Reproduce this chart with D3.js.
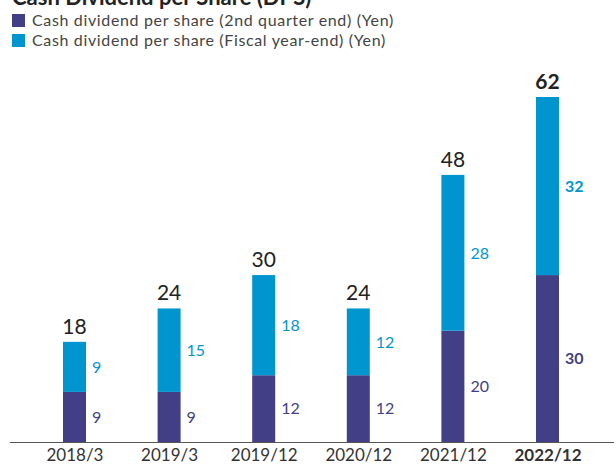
<!DOCTYPE html>
<html>
<head>
<meta charset="utf-8">
<script src="https://d3js.org/d3.v7.min.js"></script>
<style>
  body { margin: 0; background: #fff; }
  svg { display: block; font-family: Lato, "Open Sans", sans-serif; }
</style>
</head>
<body>
<script>
// chart values
var periods = ["2018/3", "2019/3", "2019/12", "2020/12", "2021/12", "2022/12"];
var secondQuarter = [9, 9, 12, 12, 20, 30];
var fiscalYearEnd = [9, 15, 18, 12, 28, 32];
var totals = [18, 24, 30, 24, 48, 62];
var legendLabels = ["Cash dividend per share (2nd quarter end) (Yen)",
                    "Cash dividend per share (Fiscal year-end) (Yen)"];

var width = 614, height = 465;
var purple = "#423f87", blue = "#0095cf";
var barW = 23;

var svg = d3.select("body").append("svg")
  .attr("width", width).attr("height", height);

// title, mostly clipped off the top as in the original
svg.append("text")
  .attr("x", 12).attr("y", 5)
  .style("font-size", "22px").style("font-weight", "bold").style("fill", "#222")
  .text("Cash Dividend per Share (DPS)");

// legend
[purple, blue].forEach(function (c, i) {
  svg.append("rect").attr("x", 12).attr("y", 14 + i * 20)
    .attr("width", 13).attr("height", 13).attr("fill", c);
  svg.append("text").attr("x", 32).attr("y", 26 + i * 20)
    .style("font-size", "16px").style("letter-spacing", "0.65px").style("fill", "#444")
    .text(legendLabels[i]);
});

var x = d3.scalePoint().domain(periods).range([27.2, 594.8]).padding(0.5);
var y = d3.scaleLinear().domain([0, 62]).range([442, 97]);

var rows = periods.map(function (p, i) {
  return { p: p, q2: secondQuarter[i], fy: fiscalYearEnd[i], total: totals[i], last: i === periods.length - 1 };
});

var g = svg.append("g");

// lower segments
g.selectAll(".q2").data(rows).enter().append("rect")
  .attr("x", function (d) { return x(d.p) - barW / 2; })
  .attr("y", function (d) { return y(d.q2); })
  .attr("width", barW)
  .attr("height", function (d) { return y(0) - y(d.q2); })
  .attr("fill", purple);

// upper segments
g.selectAll(".fy").data(rows).enter().append("rect")
  .attr("x", function (d) { return x(d.p) - barW / 2; })
  .attr("y", function (d) { return y(d.q2 + d.fy); })
  .attr("width", barW)
  .attr("height", function (d) { return y(d.q2) - y(d.q2 + d.fy); })
  .attr("fill", blue);

// segment labels
g.selectAll(".lq2").data(rows).enter().append("text")
  .attr("x", function (d) { return x(d.p) + barW / 2 + 6; })
  .attr("y", function (d) { return (y(0) + y(d.q2)) / 2; })
  .attr("dy", "0.36em")
  .style("font-size", "16px").style("fill", purple)
  .style("font-weight", function (d) { return d.last ? "bold" : "normal"; })
  .text(function (d) { return d.q2; });

g.selectAll(".lfy").data(rows).enter().append("text")
  .attr("x", function (d) { return x(d.p) + barW / 2 + 6; })
  .attr("y", function (d) { return (y(d.q2) + y(d.q2 + d.fy)) / 2; })
  .attr("dy", "0.36em")
  .style("font-size", "16px").style("fill", blue)
  .style("font-weight", function (d) { return d.last ? "bold" : "normal"; })
  .text(function (d) { return d.fy; });

// totals
g.selectAll(".tot").data(rows).enter().append("text")
  .attr("x", function (d) { return x(d.p); })
  .attr("y", function (d) { return y(d.total) - 8; })
  .attr("text-anchor", "middle")
  .style("font-size", "21px").style("fill", "#222")
  .style("font-weight", function (d) { return d.last ? "bold" : "normal"; })
  .text(function (d) { return d.total; });

// baseline axis
var axis = svg.append("g").attr("transform", "translate(0," + y(0) + ")")
  .call(d3.axisBottom(x).tickSize(0).tickPadding(7));
axis.select(".domain").attr("d", "M10,0.5H614").attr("stroke", "#555");
axis.selectAll(".tick text")
  .style("font-size", "17px").style("fill", "#333")
  .style("font-family", "Lato, 'Open Sans', sans-serif")
  .style("font-weight", function (d, i) { return i === periods.length - 1 ? "bold" : "normal"; });
</script>
</body>
</html>
